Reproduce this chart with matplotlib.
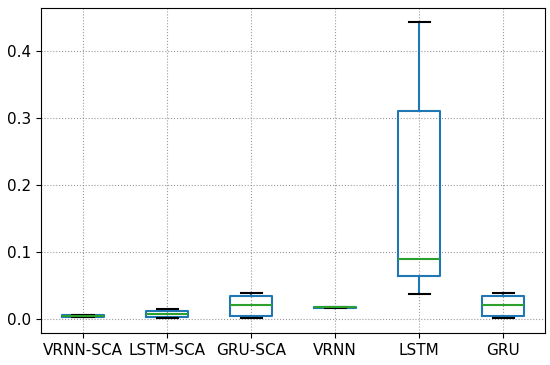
import matplotlib
matplotlib.use("Agg")
import matplotlib.pyplot as plt

# Box statistics (per model)
models = ["VRNN-SCA", "LSTM-SCA", "GRU-SCA", "VRNN", "LSTM", "GRU"]
whis_lo = [0.0025, 0.0015, 0.0005, 0.0160, 0.0370, 0.0005]
q1      = [0.0030, 0.0025, 0.0045, 0.0165, 0.0640, 0.0045]
median  = [0.0040, 0.0070, 0.0210, 0.0170, 0.0895, 0.0210]
q3      = [0.0055, 0.0120, 0.0345, 0.0175, 0.3110, 0.0345]
whis_hi = [0.0060, 0.0145, 0.0390, 0.0180, 0.4430, 0.0390]

stats = [
    {"label": m, "whislo": lo, "q1": a, "med": md, "q3": b, "whishi": hi, "fliers": []}
    for m, lo, a, md, b, hi in zip(models, whis_lo, q1, median, q3, whis_hi)
]

fig = plt.figure(figsize=(5.5, 3.65), dpi=100)
ax = fig.add_axes([0.0745, 0.088, 0.917, 0.89])

ax.bxp(stats, widths=0.5, showfliers=False,
       boxprops=dict(color="#1f77b4", linewidth=1.5),
       whiskerprops=dict(color="#1f77b4", linewidth=1.5),
       medianprops=dict(color="#2ca02c", linewidth=1.5),
       capprops=dict(color="black", linewidth=1.5))

ax.set_xlim(0.5, 6.5)
ax.set_ylim(-0.021, 0.464)
ax.set_yticks([0.0, 0.1, 0.2, 0.3, 0.4])
ax.grid(True, linestyle=":", color="gray", linewidth=0.8, alpha=0.8)
ax.tick_params(labelsize=11)

fig.savefig("out.png", dpi=100)
